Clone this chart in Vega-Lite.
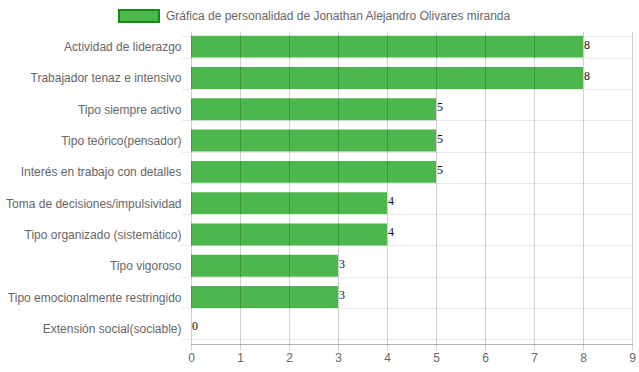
{
  "$schema": "https://vega.github.io/schema/vega-lite/v6.json",
  "width": 441,
  "height": 313,
  "autosize": {"type": "none"},
  "padding": {"left": 191, "top": 31, "right": 7, "bottom": 28},
  "background": "white",
  "config": {
    "view": {"stroke": null},
    "font": "Liberation Sans",
    "axis": {"labelFont": "Liberation Sans", "labelFontSize": 12, "labelColor": "#666"},
    "legend": {"labelFont": "Liberation Sans", "labelFontSize": 12, "labelColor": "#666"}
  },
  "data": {
    "values": [
      {"rasgo": "Actividad de liderazgo", "valor": 8, "serie": "Gráfica de personalidad de Jonathan Alejandro Olivares miranda"},
      {"rasgo": "Trabajador tenaz e intensivo", "valor": 8, "serie": "Gráfica de personalidad de Jonathan Alejandro Olivares miranda"},
      {"rasgo": "Tipo siempre activo", "valor": 5, "serie": "Gráfica de personalidad de Jonathan Alejandro Olivares miranda"},
      {"rasgo": "Tipo teórico(pensador)", "valor": 5, "serie": "Gráfica de personalidad de Jonathan Alejandro Olivares miranda"},
      {"rasgo": "Interés en trabajo con detalles", "valor": 5, "serie": "Gráfica de personalidad de Jonathan Alejandro Olivares miranda"},
      {"rasgo": "Toma de decisiones/impulsividad", "valor": 4, "serie": "Gráfica de personalidad de Jonathan Alejandro Olivares miranda"},
      {"rasgo": "Tipo organizado (sistemático)", "valor": 4, "serie": "Gráfica de personalidad de Jonathan Alejandro Olivares miranda"},
      {"rasgo": "Tipo vigoroso", "valor": 3, "serie": "Gráfica de personalidad de Jonathan Alejandro Olivares miranda"},
      {"rasgo": "Tipo emocionalmente restringido", "valor": 3, "serie": "Gráfica de personalidad de Jonathan Alejandro Olivares miranda"},
      {"rasgo": "Extensión social(sociable)", "valor": 0, "serie": "Gráfica de personalidad de Jonathan Alejandro Olivares miranda"}
    ]
  },
  "encoding": {
    "y": {
      "field": "rasgo",
      "type": "nominal",
      "sort": null,
      "title": null,
      "scale": {"paddingInner": 0.3, "paddingOuter": 0.15},
      "axis": {
        "tickBand": "extent",
        "grid": true,
        "gridColor": "#ebebeb",
        "tickColor": "#ebebeb",
        "tickSize": 10,
        "domain": false,
        "labelPadding": 0,
        "zindex": 0
      }
    },
    "x": {
      "field": "valor",
      "type": "quantitative",
      "title": null,
      "scale": {"domain": [0, 9], "nice": false},
      "axis": {
        "values": [0, 1, 2, 3, 4, 5, 6, 7, 8, 9],
        "format": "d",
        "labelFlush": false,
        "grid": true,
        "gridColor": "rgba(0,0,0,0.18)",
        "tickColor": "rgba(0,0,0,0.18)",
        "domainColor": "rgba(0,0,0,0.3)",
        "tickSize": 6,
        "labelPadding": 2,
        "zindex": 1
      }
    }
  },
  "layer": [
    {
      "mark": {"type": "bar", "opacity": 1},
      "encoding": {
        "color": {
          "field": "serie",
          "type": "nominal",
          "scale": {"range": ["#4CB74C"]},
          "legend": {
            "title": null,
            "orient": "none",
            "legendX": -73,
            "legendY": -36,
            "padding": 0,
            "symbolType": "M-1,-0.3H1V0.3H-1Z",
            "symbolSize": 1600,
            "symbolStrokeColor": "#168A16",
            "symbolStrokeWidth": 2,
            "symbolOpacity": 1,
            "labelOffset": 6,
            "labelLimit": 500
          }
        }
      }
    },
    {
      "mark": {"type": "text", "align": "left", "baseline": "middle", "dx": 1, "dy": -2, "fontSize": 12, "color": "#111", "font": "Liberation Serif"},
      "encoding": {"text": {"field": "valor", "type": "quantitative"}}
    }
  ]
}
